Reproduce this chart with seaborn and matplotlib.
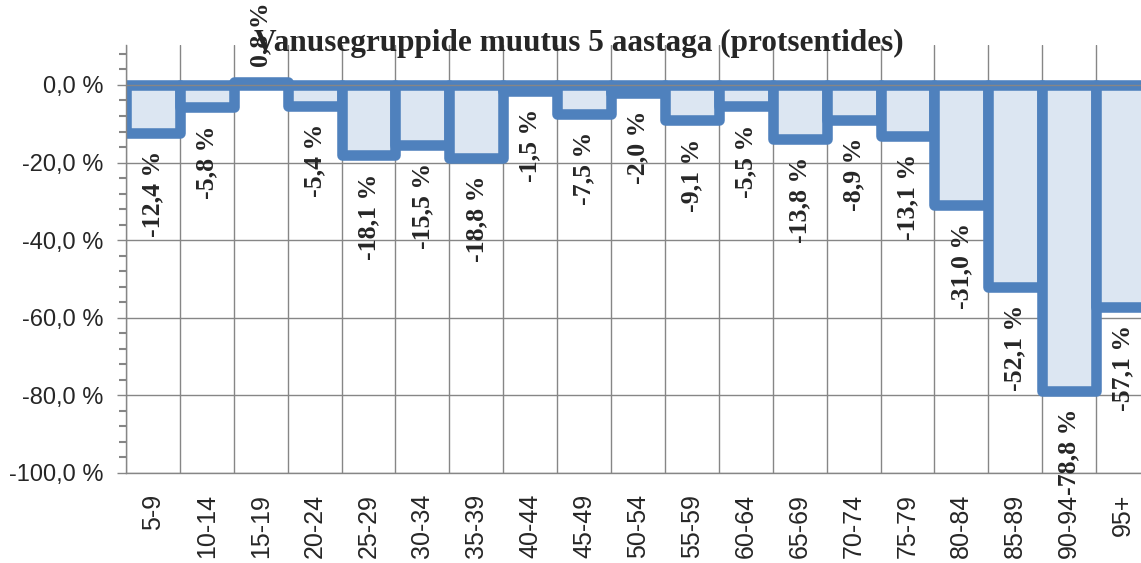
import numpy as np
import seaborn as sns
import matplotlib.pyplot as plt

sns.set_theme(style='white')
plt.rcParams['font.family'] = ['Liberation Sans', 'DejaVu Sans']

# age groups and their change over 5 years (%)
groups = ['5-9', '10-14', '15-19', '20-24', '25-29', '30-34', '35-39', '40-44',
          '45-49', '50-54', '55-59', '60-64', '65-69', '70-74', '75-79', '80-84',
          '85-89', '90-94', '95+']
change = [-12.4, -5.8, 0.8, -5.4, -18.1, -15.5, -18.8, -1.5, -7.5, -2.0,
          -9.1, -5.5, -13.8, -8.9, -13.1, -31.0, -52.1, -78.8, -57.1]
y_ticks = [0, -20, -40, -60, -80, -100]
y_labels = ['0,0 %', '-20,0 %', '-40,0 %', '-60,0 %', '-80,0 %', '-100,0 %']
title = 'Vanusegruppide muutus 5 aastaga (protsentides)'

edge = '#4f81bd'
fill = '#dce6f2'
grid = '#868686'

fig = plt.figure(figsize=(11.41, 5.63), dpi=100)
# axes runs past the right edge, the last bar is cut off like in the original
ax = fig.add_axes([126 / 1141, 90 / 563, 1024 / 1141, 428 / 563])

sns.barplot(x=groups, y=change, width=1, color=fill, saturation=1,
            edgecolor=edge, linewidth=7.6, ax=ax, zorder=2)
for p in ax.patches:
    p.set_joinstyle('round')

ax.set_xlim(-0.5, len(groups) - 0.5)
ax.set_ylim(-100, 10.3)

# grid: vertical lines between categories, horizontal at major ticks
ax.set_xticks(np.arange(-0.5, len(groups), 1), minor=True)
ax.set_yticks(y_ticks)
ax.set_yticklabels(y_labels, fontsize=17)
ax.set_yticks(np.arange(8, -100, -4), minor=True)
ax.grid(which='minor', axis='x', color=grid, lw=1, zorder=0)
ax.grid(which='major', axis='y', color=grid, lw=1, zorder=0)
ax.axhline(0, color=grid, lw=1, zorder=3)
ax.set_axisbelow(True)

ax.tick_params(axis='x', which='both', length=0, pad=15, labelsize=18,
               labelrotation=90)
ax.tick_params(axis='y', which='major', left=True, length=6.5, width=1,
               color=grid, pad=10)
ax.tick_params(axis='y', which='minor', left=True, length=5, width=1.5,
               color=grid)
for s in ['top', 'right']:
    ax.spines[s].set_visible(False)
for s in ['left', 'bottom']:
    ax.spines[s].set_color(grid)
    ax.spines[s].set_linewidth(1)
ax.set_xlabel('')

# value labels below (or above) each bar
for i, v in enumerate(change):
    txt = f'{v:.1f} %'.replace('.', ',')
    off = 11 if v > 0 else -13
    ax.annotate(txt, (i, v), xytext=(0, off), textcoords='offset points',
                rotation=90, ha='center', va='bottom' if v > 0 else 'top',
                fontsize=18.5, fontweight='bold', family='Liberation Serif',
                clip_on=False, zorder=5)

fig.text(579 / 1141, 1 - 43 / 563, title, ha='center', va='center',
         fontsize=22.5, fontweight='bold', family='Liberation Serif')

fig.savefig('out.png', dpi=100)
